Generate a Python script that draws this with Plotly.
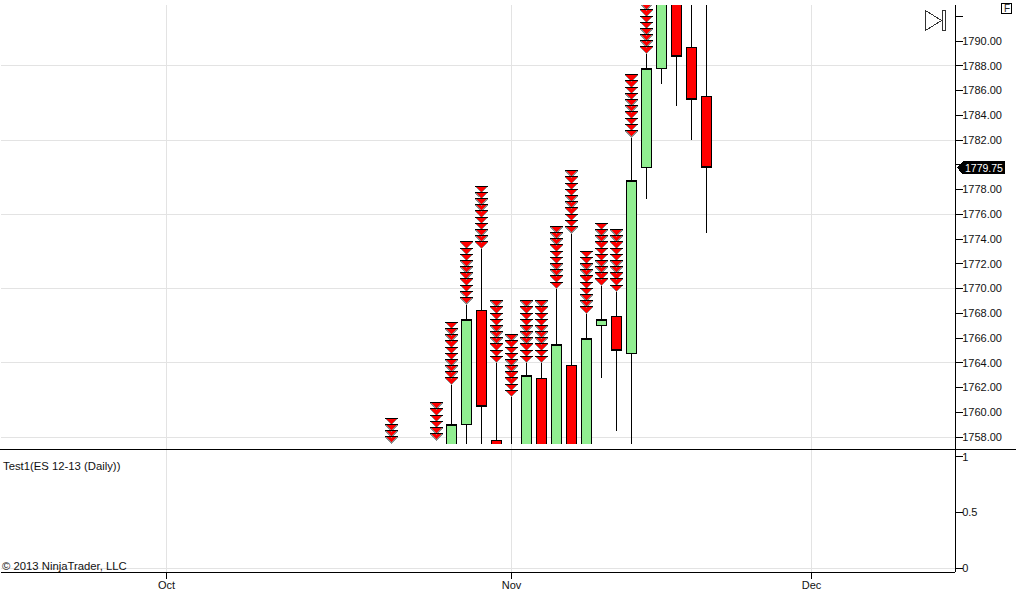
import plotly.graph_objects as go

# session number counted from Oct 1 2013
sessions = [19, 20, 21, 22, 23, 24, 25, 26, 27, 28, 29, 30, 31, 32, 33, 34, 35, 36]
opens = [1755.5, 1759, 1768.25, 1757.75, 1756.25, 1755.5, 1762.75, 1755.75, 1763.75,
         1755.25, 1767, 1767.75, 1764.75, 1779.75, 1787.75, 1794.5, 1789.5, 1785.5]
highs = [1762.25, 1768.75, 1773.25, 1764, 1761.25, 1764, 1764, 1770, 1774.5,
         1768, 1770.25, 1769.75, 1782.25, 1789, 1795, 1795, 1795, 1795]
lows = [1755, 1756.5, 1755, 1755.5, 1755, 1755, 1755, 1755, 1755,
        1755, 1762.75, 1758.5, 1755, 1777.25, 1786.5, 1784.75, 1782, 1774.5]
closes = [1759, 1767.5, 1760.5, 1756.5, 1756.75, 1763, 1756, 1765.5, 1756.5,
          1766, 1767.5, 1765, 1778.75, 1787.75, 1794, 1788.75, 1785.25, 1779.75]

arrow_sessions = [15, 18, 19, 20, 21, 22, 23, 24, 25, 26, 27, 28, 29, 30, 31, 32]
arrow_prices = [
    [1759, 1758.5, 1758, 1757.5],
    [1760.25, 1759.75, 1759.25, 1758.75, 1758.25, 1757.75],
    [1766.75, 1766.25, 1765.75, 1765.25, 1764.75, 1764.25, 1763.75, 1763.25, 1762.75, 1762.25],
    [1773.25, 1772.75, 1772.25, 1771.75, 1771.25, 1770.75, 1770.25, 1769.75, 1769.25, 1768.75],
    [1777.75, 1777.25, 1776.75, 1776.25, 1775.75, 1775.25, 1774.75, 1774.25, 1773.75, 1773.25],
    [1768.5, 1768, 1767.5, 1767, 1766.5, 1766, 1765.5, 1765, 1764.5, 1764],
    [1765.75, 1765.25, 1764.75, 1764.25, 1763.75, 1763.25, 1762.75, 1762.25, 1761.75, 1761.25],
    [1768.5, 1768, 1767.5, 1767, 1766.5, 1766, 1765.5, 1765, 1764.5, 1764],
    [1768.5, 1768, 1767.5, 1767, 1766.5, 1766, 1765.5, 1765, 1764.5, 1764],
    [1774.5, 1774, 1773.5, 1773, 1772.5, 1772, 1771.5, 1771, 1770.5, 1770],
    [1779, 1778.5, 1778, 1777.5, 1777, 1776.5, 1776, 1775.5, 1775, 1774.5],
    [1772.5, 1772, 1771.5, 1771, 1770.5, 1770, 1769.5, 1769, 1768.5, 1768],
    [1774.75, 1774.25, 1773.75, 1773.25, 1772.75, 1772.25, 1771.75, 1771.25, 1770.75, 1770.25],
    [1774.25, 1773.75, 1773.25, 1772.75, 1772.25, 1771.75, 1771.25, 1770.75, 1770.25, 1769.75],
    [1786.75, 1786.25, 1785.75, 1785.25, 1784.75, 1784.25, 1783.75, 1783.25, 1782.75, 1782.25],
    [1793.5, 1793, 1792.5, 1792, 1791.5, 1791, 1790.5, 1790, 1789.5, 1789],
]

# 1780 sits under the last price tag, 1792 is cut off at the top
price_ticks = [1758, 1760, 1762, 1764, 1766, 1768, 1770, 1772, 1774, 1776, 1778,
               1780, 1782, 1784, 1786, 1788, 1790, 1792]
price_labels = ['1758.00', '1760.00', '1762.00', '1764.00', '1766.00', '1768.00',
                '1770.00', '1772.00', '1774.00', '1776.00', '1778.00', '',
                '1782.00', '1784.00', '1786.00', '1788.00', '1790.00', '']
price_grid = [1758, 1764, 1770, 1776, 1782, 1788]
month_ticks = [0, 23, 43]
month_labels = ['Oct', 'Nov', 'Dec']
last_price = 1779.75

GRID = '#e3e3e3'
ARROW_HALF_WIDTH = 0.43  # in sessions
ARROW_HEIGHT = 0.52  # in points


def fx(px):
    return (px - 1) / 954


def fy(py):
    return (572 - py) / 567


# every arrow is a small triangle with its tip on the price
arrow_x = []
arrow_y = []
edge_x = []
edge_y = []
for session, prices in zip(arrow_sessions, arrow_prices):
    for price in prices:
        arrow_x += [session - ARROW_HALF_WIDTH, session + ARROW_HALF_WIDTH, session,
                    session - ARROW_HALF_WIDTH, None]
        arrow_y += [price + ARROW_HEIGHT, price + ARROW_HEIGHT, price,
                    price + ARROW_HEIGHT, None]
        edge_x += [session - ARROW_HALF_WIDTH, session + ARROW_HALF_WIDTH, None]
        edge_y += [price + ARROW_HEIGHT, price + ARROW_HEIGHT, None]

fig = go.Figure()
fig.add_trace(go.Candlestick(
    x=sessions, open=opens, high=highs, low=lows, close=closes,
    increasing=dict(fillcolor='#90ee90', line=dict(color='black', width=1)),
    decreasing=dict(fillcolor='#ff0000', line=dict(color='black', width=1)),
    whiskerwidth=0,
))
fig.add_trace(go.Scatter(
    x=arrow_x, y=arrow_y, mode='lines', fill='toself', fillcolor='#ff0000',
    line=dict(color='#8c8c8c', width=1),
))
fig.add_trace(go.Scatter(x=edge_x, y=edge_y, mode='lines', line=dict(color='black', width=1)))
fig.add_trace(go.Scatter(x=[None], y=[None], yaxis='y2', mode='lines'))

shapes = []
for level in price_grid:
    shapes.append(dict(type='line', xref='paper', x0=0, x1=1, yref='y', y0=level, y1=level,
                       line=dict(color=GRID, width=1), layer='below'))
shapes.append(dict(type='line', xref='paper', x0=0, x1=1, yref='y2', y0=0, y1=0,
                   line=dict(color=GRID, width=1), layer='below'))
for tick in month_ticks:
    shapes.append(dict(type='line', xref='x', x0=tick, x1=tick, yref='paper', y0=0, y1=1,
                       line=dict(color=GRID, width=1), layer='below'))
# pane divider and price axis spine
shapes.append(dict(type='line', xref='paper', x0=fx(0), x1=fx(1016), yref='paper',
                   y0=fy(449), y1=fy(449), line=dict(color='black', width=1)))
shapes.append(dict(type='line', xref='paper', x0=1, x1=1, yref='paper', y0=0, y1=1,
                   line=dict(color='black', width=1)))
# last price tag
shapes.append(dict(type='path', xref='paper', yref='y', xsizemode='pixel', ysizemode='pixel',
                   xanchor=1, yanchor=last_price,
                   path='M 2 0 L 8 -6.5 L 50 -6.5 L 50 6.5 L 8 6.5 Z',
                   fillcolor='black', line=dict(color='black', width=0)))
# end-of-chart icon
shapes.append(dict(type='path', xref='paper', yref='paper',
                   path=f'M {fx(925.5)} {fy(10.5)} L {fx(941.5)} {fy(20.5)} L {fx(925.5)} {fy(30.5)} Z',
                   line=dict(color='#333333', width=1)))
shapes.append(dict(type='rect', xref='paper', yref='paper', x0=fx(942.5), x1=fx(945.5),
                   y0=fy(10.5), y1=fy(30.5), line=dict(color='#333333', width=1)))
# F button
shapes.append(dict(type='rect', xref='paper', yref='paper', x0=fx(1001.5), x1=fx(1011.5),
                   y0=fy(3.5), y1=fy(13.5), line=dict(color='black', width=1)))

annotations = [
    dict(text='Test1(ES 12-13 (Daily))', xref='paper', yref='paper', x=fx(1), y=fy(466),
         xanchor='left', yanchor='middle', showarrow=False, font=dict(size=11.3, color='#111111')),
    dict(text='© 2013 NinjaTrader, LLC', xref='paper', yref='paper', x=fx(0), y=fy(566),
         xanchor='left', yanchor='middle', showarrow=False, font=dict(size=11.3, color='#111111')),
    dict(text='1779.75', xref='paper', yref='y', x=fx(963), y=last_price,
         xanchor='left', yanchor='middle', showarrow=False, font=dict(size=10.5, color='white')),
    dict(text='F', xref='paper', yref='paper', x=fx(1006.5), y=fy(8.5),
         xanchor='center', yanchor='middle', showarrow=False, font=dict(size=10, color='#222222')),
]

fig.update_layout(
    width=1016,
    height=599,
    margin=dict(l=1, r=61, t=5, b=27, pad=0),
    paper_bgcolor='white',
    plot_bgcolor='rgba(0,0,0,0)',
    font=dict(family='Liberation Sans', size=11, color='#111111'),
    showlegend=False,
    boxgap=0.2,
    boxgroupgap=0.17,
    xaxis=dict(
        anchor='y2', range=[-11.033, 52.567], tickvals=month_ticks, ticktext=month_labels,
        ticks='outside', ticklen=6, tickcolor='black', showgrid=False, zeroline=False,
        showline=True, linecolor='black', linewidth=1, rangeslider=dict(visible=False),
        ticklabelstandoff=-3,
    ),
    yaxis=dict(
        domain=[fy(444), 1], range=[1757.434, 1792.91], side='right', anchor='x',
        tickvals=price_ticks, ticktext=price_labels, ticks='outside', ticklen=7,
        tickcolor='black', showgrid=False, zeroline=False, showline=False,
        ticklabelstandoff=-3,
    ),
    yaxis2=dict(
        domain=[0, fy(449)], range=[-0.033, 1.069], side='right', anchor='x',
        tickvals=[0, 0.5, 1], ticktext=['0', '0.5', '1'], ticks='outside', ticklen=7,
        tickcolor='black', showgrid=False, zeroline=False, showline=False,
        ticklabelstandoff=-3,
    ),
    shapes=shapes,
    annotations=annotations,
)

# the reference is drawn without anti-aliasing
post = """document.body.style.margin='0';
var s=document.createElement('style');
s.textContent='.main-svg path{shape-rendering:crispEdges}';
document.head.appendChild(s);"""
fig.write_html('out.html', post_script=post, config=dict(displayModeBar=False))
